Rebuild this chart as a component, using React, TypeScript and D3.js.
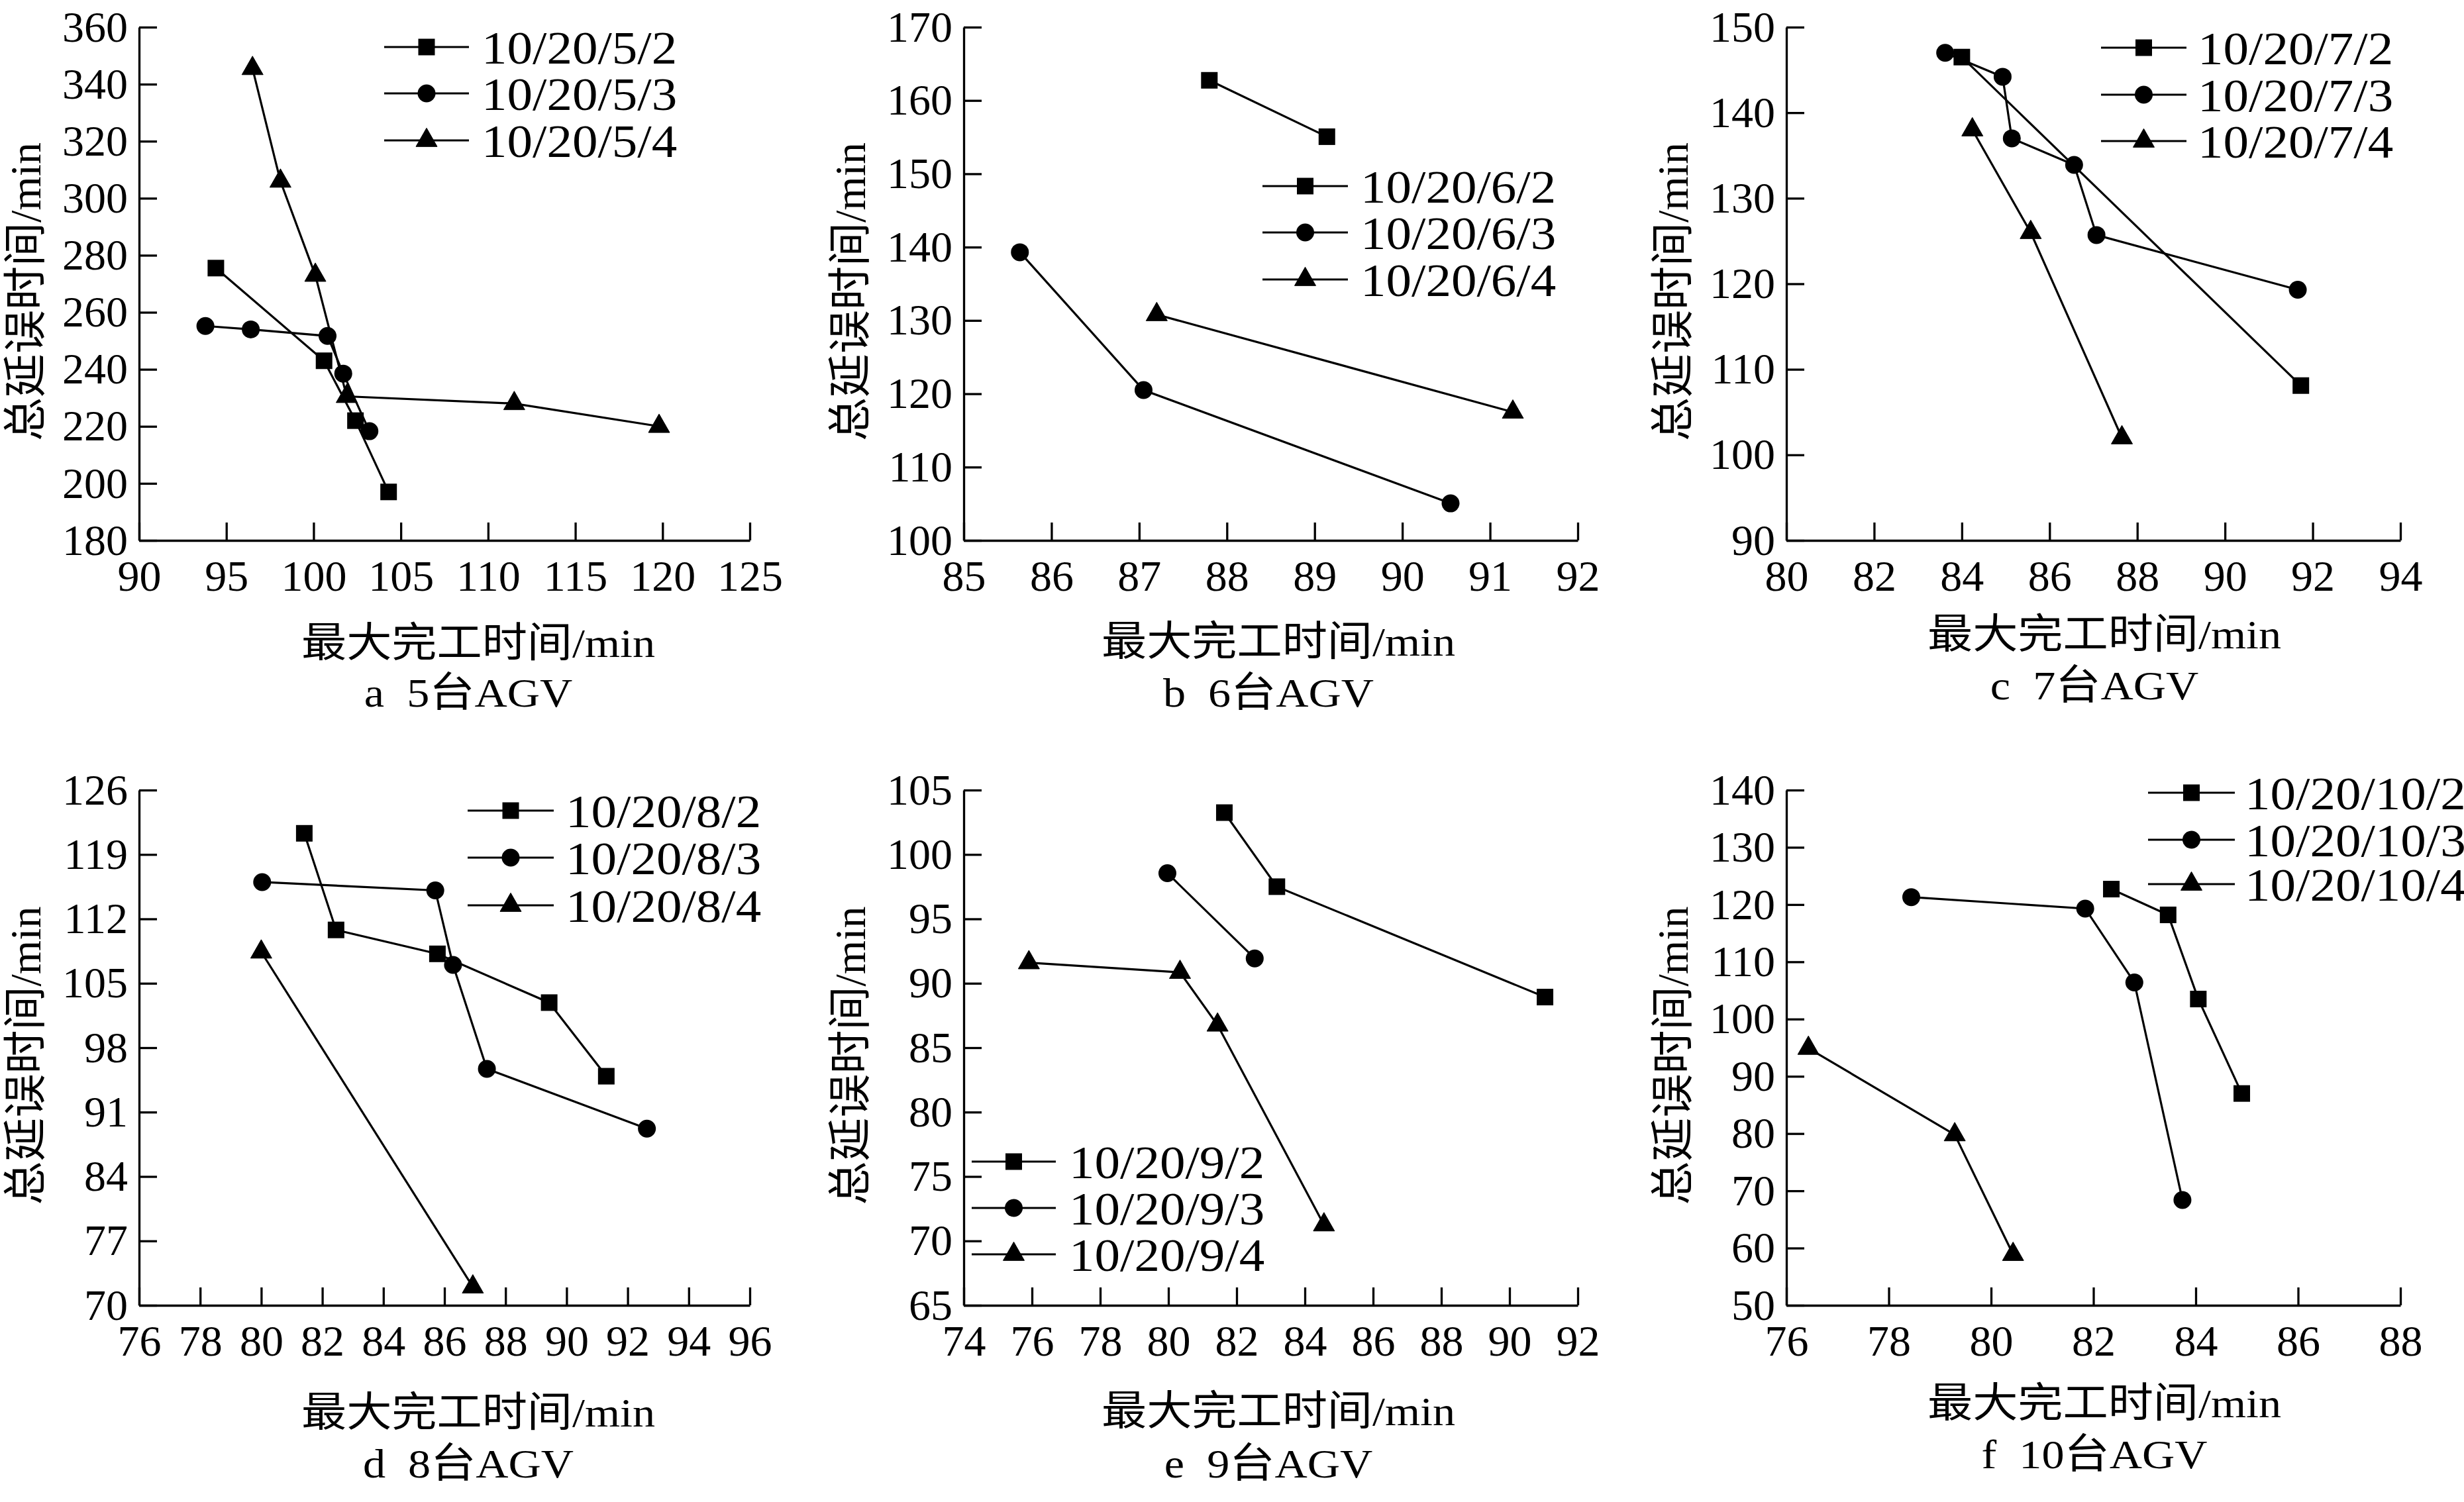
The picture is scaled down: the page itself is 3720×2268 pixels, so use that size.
import { useEffect, useRef } from "react";
import * as d3 from "d3";

const W = 3720;
const H = 2268;
const FONT = "'Liberation Serif', 'Noto Sans CJK SC', serif";

// a 5台AGV
const a52X = [94.4, 100.6, 102.4, 104.3];
const a52Y = [275.5, 243, 222, 197];
const a53X = [93.8, 96.4, 100.8, 101.7, 103.2];
const a53Y = [255.2, 254, 251.7, 238.5, 218.3];
const a54X = [96.5, 98.1, 100.1, 101.9, 111.5, 119.8];
const a54Y = [345.5, 306, 273, 230.5, 228, 220];
const aXTicks = [90, 95, 100, 105, 110, 115, 120, 125];
const aYTicks = [180, 200, 220, 240, 260, 280, 300, 320, 340, 360];

// b 6台AGV
const b62X = [87.8, 89.14];
const b62Y = [162.75, 155.06];
const b63X = [85.64, 87.05, 90.55];
const b63Y = [139.3, 120.5, 105.05];
const b64X = [87.2, 91.26];
const b64Y = [130.8, 117.5];
const bXTicks = [85, 86, 87, 88, 89, 90, 91, 92];
const bYTicks = [100, 110, 120, 130, 140, 150, 160, 170];

// c 7台AGV
const c72X = [84.0, 91.73];
const c72Y = [146.5, 108.1];
const c73X = [83.62, 84.93, 85.14, 86.56, 87.07, 91.66];
const c73Y = [147.0, 144.2, 137.0, 133.9, 125.7, 119.3];
const c74X = [84.24, 85.57, 87.65];
const c74Y = [138, 126, 102];
const cXTicks = [80, 82, 84, 86, 88, 90, 92, 94];
const cYTicks = [90, 100, 110, 120, 130, 140, 150];

// d 8台AGV
const d82X = [81.41, 82.45, 85.77, 89.43, 91.3];
const d82Y = [121.3, 110.8, 108.2, 102.9, 94.9];
const d83X = [80.03, 85.7, 86.28, 87.39, 92.63];
const d83Y = [116.0, 115.1, 107.0, 95.7, 89.2];
const d84X = [80.0, 86.93];
const d84Y = [108.4, 72.0];
const dXTicks = [76, 78, 80, 82, 84, 86, 88, 90, 92, 94, 96];
const dYTicks = [70, 77, 84, 91, 98, 105, 112, 119, 126];

// e 9台AGV
const e92X = [81.64, 83.18, 91.04];
const e92Y = [103.25, 97.5, 88.93];
const e93X = [79.97, 82.53];
const e93Y = [98.55, 91.93];
const e94X = [75.91, 80.34, 81.44, 84.56];
const e94Y = [91.6, 90.85, 86.76, 71.25];
const eXTicks = [74, 76, 78, 80, 82, 84, 86, 88, 90, 92];
const eYTicks = [65, 70, 75, 80, 85, 90, 95, 100, 105];

// f 10台AGV
const f102X = [82.35, 83.46, 84.05, 84.9];
const f102Y = [122.7, 118.2, 103.5, 87.0];
const f103X = [78.44, 81.84, 82.8, 83.74];
const f103Y = [121.3, 119.3, 106.4, 68.4];
const f104X = [76.43, 79.29, 80.43];
const f104Y = [94.9, 79.8, 58.9];
const fXTicks = [76, 78, 80, 82, 84, 86, 88];
const fYTicks = [50, 60, 70, 80, 90, 100, 110, 120, 130, 140];

const panelLabels = ["a  5台AGV", "b  6台AGV", "c  7台AGV", "d  8台AGV", "e  9台AGV", "f  10台AGV"];
const xTitle = "最大完工时间/min";
const yTitle = "总延误时间/min";

type Shape = "square" | "circle" | "triangle";
interface Series { name: string; x: number[]; y: number[]; shape: Shape }
interface Panel {
  label: string;
  series: Series[];
  xTicks: number[];
  yTicks: number[];
  left: number; right: number; top: number; bottom: number;
  titleX: number; titleY: number; subY: number;
  legX0: number; legX1: number; legTextX: number; legRows: number[];
}

const mk = (name: string, x: number[], y: number[], shape: Shape): Series => ({ name, x, y, shape });

const TOP = { top: 41, bottom: 816 };
const BOT = { top: 1193, bottom: 1971 };
const COLS = [
  { left: 210, right: 1132 },
  { left: 1455, right: 2382 },
  { left: 2697, right: 3624 },
];

const panels: Panel[] = [
  {
    label: panelLabels[0],
    series: [mk("10/20/5/2", a52X, a52Y, "square"), mk("10/20/5/3", a53X, a53Y, "circle"), mk("10/20/5/4", a54X, a54Y, "triangle")],
    xTicks: aXTicks, yTicks: aYTicks, ...COLS[0], ...TOP,
    titleX: 722, titleY: 970, subY: 1045,
    legX0: 580, legX1: 708, legTextX: 727, legRows: [71, 141, 212],
  },
  {
    label: panelLabels[1],
    series: [mk("10/20/6/2", b62X, b62Y, "square"), mk("10/20/6/3", b63X, b63Y, "circle"), mk("10/20/6/4", b64X, b64Y, "triangle")],
    xTicks: bXTicks, yTicks: bYTicks, ...COLS[1], ...TOP,
    titleX: 1930, titleY: 968, subY: 1045,
    legX0: 1906, legX1: 2035, legTextX: 2054, legRows: [281, 351, 422],
  },
  {
    label: panelLabels[2],
    series: [mk("10/20/7/2", c72X, c72Y, "square"), mk("10/20/7/3", c73X, c73Y, "circle"), mk("10/20/7/4", c74X, c74Y, "triangle")],
    xTicks: cXTicks, yTicks: cYTicks, ...COLS[2], ...TOP,
    titleX: 3177, titleY: 957, subY: 1034,
    legX0: 3172, legX1: 3301, legTextX: 3318, legRows: [72, 143, 213],
  },
  {
    label: panelLabels[3],
    series: [mk("10/20/8/2", d82X, d82Y, "square"), mk("10/20/8/3", d83X, d83Y, "circle"), mk("10/20/8/4", d84X, d84Y, "triangle")],
    xTicks: dXTicks, yTicks: dYTicks, ...COLS[0], ...BOT,
    titleX: 722, titleY: 2132, subY: 2209,
    legX0: 706, legX1: 836, legTextX: 854, legRows: [1224, 1295, 1367],
  },
  {
    label: panelLabels[4],
    series: [mk("10/20/9/2", e92X, e92Y, "square"), mk("10/20/9/3", e93X, e93Y, "circle"), mk("10/20/9/4", e94X, e94Y, "triangle")],
    xTicks: eXTicks, yTicks: eYTicks, ...COLS[1], ...BOT,
    titleX: 1930, titleY: 2130, subY: 2209,
    legX0: 1467, legX1: 1594, legTextX: 1614, legRows: [1754, 1824, 1894],
  },
  {
    label: panelLabels[5],
    series: [mk("10/20/10/2", f102X, f102Y, "square"), mk("10/20/10/3", f103X, f103Y, "circle"), mk("10/20/10/4", f104X, f104Y, "triangle")],
    xTicks: fXTicks, yTicks: fYTicks, ...COLS[2], ...BOT,
    titleX: 3177, titleY: 2118, subY: 2195,
    legX0: 3243, legX1: 3374, legTextX: 3389, legRows: [1197, 1268, 1335],
  },
];

function drawMarker(g: d3.Selection<SVGGElement, unknown, null, undefined>, shape: Shape, cx: number, cy: number) {
  if (shape === "square") {
    g.append("rect").attr("x", cx - 12.5).attr("y", cy - 12.5).attr("width", 25).attr("height", 25).attr("fill", "#000");
  } else if (shape === "circle") {
    g.append("circle").attr("cx", cx).attr("cy", cy).attr("r", 13.5).attr("fill", "#000");
  } else {
    const s = 32, h = 28;
    g.append("path")
      .attr("d", `M${cx},${cy - (h * 2) / 3}L${cx + s / 2},${cy + h / 3}L${cx - s / 2},${cy + h / 3}Z`)
      .attr("fill", "#000")
      .attr("stroke", "#000")
      .attr("stroke-width", 1)
      .attr("stroke-linejoin", "round");
  }
}

export default function App() {
  const svgRef = useRef<SVGSVGElement>(null);

  useEffect(() => {
    if (!svgRef.current) return;
    const svg = d3.select(svgRef.current);
    svg.selectAll("*").remove();
    svg.append("rect").attr("width", W).attr("height", H).attr("fill", "#fff");

    panels.forEach((p) => {
      const g = svg.append("g");
      const x = d3.scaleLinear().domain([p.xTicks[0], p.xTicks[p.xTicks.length - 1]]).range([p.left, p.right]);
      const y = d3.scaleLinear().domain([p.yTicks[0], p.yTicks[p.yTicks.length - 1]]).range([p.bottom, p.top]);

      // Axes, ticks pointing inward
      const xAxis = g
        .append("g")
        .attr("transform", `translate(0,${p.bottom})`)
        .call(d3.axisBottom(x).tickValues(p.xTicks).tickSizeInner(-27).tickSizeOuter(0).tickPadding(29).tickFormat(d3.format("d")));
      const yAxis = g
        .append("g")
        .attr("transform", `translate(${p.left},0)`)
        .call(d3.axisLeft(y).tickValues(p.yTicks).tickSizeInner(-27).tickSizeOuter(0).tickPadding(17).tickFormat(d3.format("d")));
      [xAxis, yAxis].forEach((ax) => {
        ax.attr("font-family", FONT).attr("font-size", 66);
        ax.select(".domain").attr("stroke", "#000").attr("stroke-width", 3.3);
        ax.selectAll(".tick line").attr("stroke", "#000").attr("stroke-width", 3.3);
        ax.selectAll(".tick text").attr("fill", "#000");
      });

      // Axis titles
      g.append("text")
        .attr("transform", `translate(${p.titleX},${p.titleY}) scale(1.1,1)`)
        .attr("text-anchor", "middle")
        .attr("dy", "0.35em")
        .attr("font-family", FONT)
        .attr("font-size", 62)
        .text(xTitle);
      g.append("text")
        .attr("transform", `translate(${p.titleX - 15},${p.subY}) scale(1.1,1)`)
        .attr("text-anchor", "middle")
        .attr("dy", "0.35em")
        .attr("font-family", FONT)
        .attr("font-size", 62)
        .style("white-space", "pre")
        .text(p.label);
      g.append("text")
        .attr("transform", `translate(${p.left - 172},${(p.top + p.bottom) / 2 + 12}) rotate(-90)`)
        .attr("text-anchor", "middle")
        .attr("dy", "0.35em")
        .attr("font-family", FONT)
        .attr("font-size", 66)
        .text(yTitle);

      // Series
      const line = d3
        .line<[number, number]>()
        .x((d) => x(d[0]))
        .y((d) => y(d[1]));
      p.series.forEach((s) => {
        const pts = s.x.map((xv, i) => [xv, s.y[i]] as [number, number]);
        g.append("path").datum(pts).attr("d", line).attr("fill", "none").attr("stroke", "#000").attr("stroke-width", 3.2);
        pts.forEach((d) => drawMarker(g, s.shape, x(d[0]), y(d[1])));
      });

      // Legend
      p.series.forEach((s, i) => {
        const ry = p.legRows[i];
        g.append("line")
          .attr("x1", p.legX0).attr("x2", p.legX1).attr("y1", ry).attr("y2", ry)
          .attr("stroke", "#000").attr("stroke-width", 3.2);
        drawMarker(g, s.shape, (p.legX0 + p.legX1) / 2, ry);
        g.append("text")
          .attr("transform", `translate(${p.legTextX},${ry}) scale(1.1,1)`)
          .attr("dy", "0.35em")
          .attr("font-family", FONT)
          .attr("font-size", 70)
          .text(s.name);
      });
    });
  }, []);

  return (
    <svg
      ref={svgRef}
      width={W}
      height={H}
      viewBox={`0 0 ${W} ${H}`}
      style={{ position: "absolute", left: 0, top: 0, display: "block" }}
    />
  );
}
